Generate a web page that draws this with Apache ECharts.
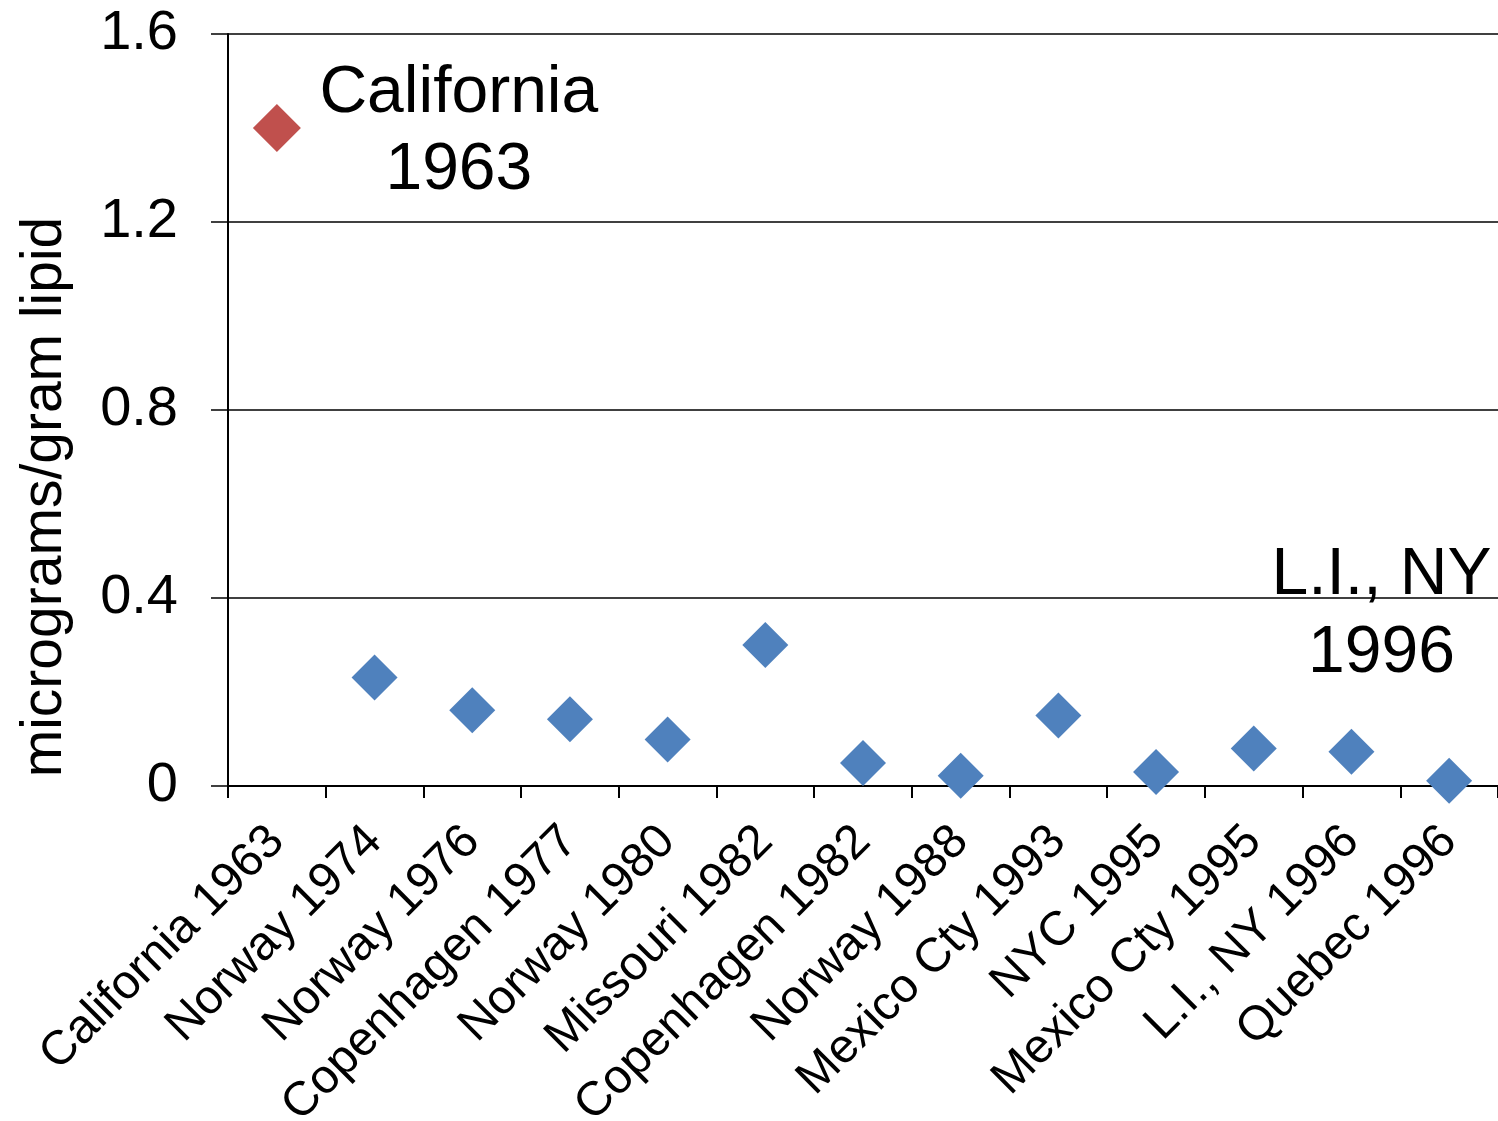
<!DOCTYPE html>
<html>
<head>
<meta charset="utf-8">
<script src="https://cdn.jsdelivr.net/npm/echarts@6/dist/echarts.min.js"></script>
<style>
html,body{margin:0;padding:0;background:#fff;}
#chart{width:1498px;height:1121px;}
</style>
</head>
<body>
<div id="chart"></div>
<script>
const categories = ['California 1963','Norway 1974','Norway 1976','Copenhagen 1977','Norway 1980','Missouri 1982','Copenhagen 1982','Norway 1988','Mexico Cty 1993','NYC 1995','Mexico Cty 1995','L.I., NY 1996','Quebec 1996'];
const californiaValues = [1.40, null, null, null, null, null, null, null, null, null, null, null, null];
const otherValues = [null, 0.231, 0.161, 0.142, 0.099, 0.300, 0.049, 0.022, 0.150, 0.030, 0.080, 0.073, 0.011];
const yTicks = [0, 0.4, 0.8, 1.2, 1.6];
const yTitle = 'micrograms/gram lipid';
const annotCalifornia = 'California\n1963';
const annotLI = 'L.I., NY\n1996';

const FONT = "'Liberation Sans', Arial, sans-serif";
const chart = echarts.init(document.getElementById('chart'), null, {renderer:'canvas'});

const redData = californiaValues.map((v,i)=> v==null ? '-' : (i===0 ? {value:v, label:{show:true}} : v));
const blueData = otherValues.map((v,i)=> {
  if (v==null) return '-';
  if (categories[i]==='L.I., NY 1996') return {value:v, label:{show:true}};
  return v;
});

chart.setOption({
  animation:false,
  backgroundColor:'#fff',
  grid:{left:228, right:0, top:34, bottom:335, containLabel:false, outerBoundsMode:'none'},
  xAxis:{
    type:'category',
    data:categories,
    boundaryGap:true,
    axisLine:{lineStyle:{color:'#000', width:2}},
    axisTick:{show:true, alignWithLabel:false, interval:0, length:12, lineStyle:{color:'#000', width:2}},
    axisLabel:{interval:0, rotate:45, margin:48, fontSize:48, color:'#000', fontFamily:FONT},
    splitLine:{show:false}
  },
  yAxis:{
    type:'value',
    min:yTicks[0], max:yTicks[yTicks.length-1], interval:0.4,
    axisLine:{show:true, lineStyle:{color:'#000', width:2}},
    axisTick:{show:true, length:17, lineStyle:{color:'#000', width:1.5}},
    axisLabel:{margin:50, fontSize:56, color:'#000', fontFamily:FONT, formatter:(v)=>String(+v.toFixed(1))},
    splitLine:{show:true, lineStyle:{color:'#000', width:1.5}}
  },
  graphic:[{
    type:'text',
    rotation:Math.PI/2,
    x:45, y:497,
    style:{text:yTitle, font:'57px '+FONT, fill:'#000', textAlign:'center', textVerticalAlign:'middle'}
  }],
  series:[
    {
      type:'scatter', name:'California', data:redData,
      symbol:'diamond', symbolSize:48,
      itemStyle:{color:'#C0504D', opacity:1},
      label:{show:false, position:'inside', offset:[182,4], formatter:()=>annotCalifornia,
        fontSize:66, lineHeight:77, color:'#000', fontFamily:FONT, align:'center', verticalAlign:'middle'}
    },
    {
      type:'scatter', name:'Others', data:blueData,
      symbol:'diamond', symbolSize:46,
      itemStyle:{color:'#4F81BD', opacity:1},
      label:{show:false, position:'inside', offset:[30,-137], formatter:()=>annotLI,
        fontSize:66, lineHeight:78, color:'#000', fontFamily:FONT, align:'center', verticalAlign:'middle'}
    }
  ]
});
</script>
</body>
</html>
